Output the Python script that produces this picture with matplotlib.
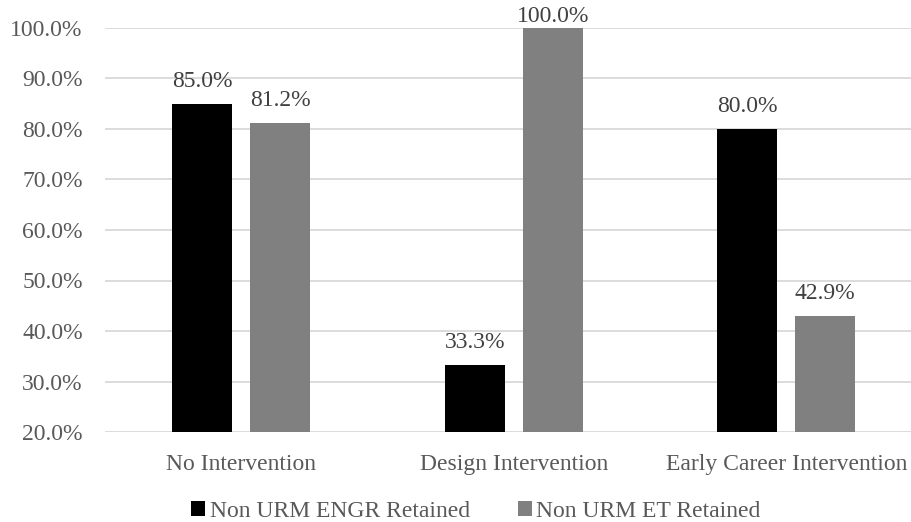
import matplotlib
matplotlib.use('Agg')
import matplotlib.pyplot as plt
import numpy as np
from matplotlib.ticker import PercentFormatter

plt.rcParams['font.family'] = ['Liberation Serif', 'DejaVu Serif']

categories = ['No Intervention', 'Design Intervention', 'Early Career Intervention']
engr_retained = [85.0, 33.3, 80.0]
et_retained = [81.2, 100.0, 42.9]
series_names = ['Non URM ENGR Retained', 'Non URM ET Retained']

text_col = '#595959'
fs = 17

fig = plt.figure(figsize=(9.12, 5.22), dpi=100)
ax = fig.add_axes([105/912, 1 - 432/522, 1 - 105/912, (432 - 28)/522])

x = np.arange(len(categories))
w = 0.22
off = 0.143
b1 = ax.bar(x - off, engr_retained, w, color='black', label=series_names[0], zorder=3)
b2 = ax.bar(x + off, et_retained, w, color='#808080', label=series_names[1], zorder=3)

# value labels above bars, kept inside the figure at the top
for bars, vals in [(b1, engr_retained), (b2, et_retained)]:
    for r, v in zip(bars, vals):
        ax.text(r.get_x() + r.get_width()/2, min(v + 4.5, 102.2), f'{v:.1f}%', ha='center', va='center',
                fontsize=fs, color='#404040', clip_on=False)

ax.set_ylim(20, 100)
ax.set_yticks(np.arange(20, 101, 10))
ax.yaxis.set_major_formatter(PercentFormatter(decimals=1))
ax.set_xlim(-0.5, (912 - 105)/272.5 - 0.5)
ax.set_xticks(x)
ax.set_xticklabels(categories)
ax.grid(axis='y', color='#d9d9d9', linewidth=1.3, zorder=0)
for s in ax.spines.values():
    s.set_visible(False)
ax.tick_params(length=0, labelsize=fs, labelcolor=text_col)
ax.tick_params(axis='x', pad=16)
ax.tick_params(axis='y', pad=16)

fig.legend(handles=[b1, b2], loc='center', bbox_to_anchor=(0.522, 0.02), ncol=2, frameon=False,
           fontsize=fs, labelcolor=text_col, handlelength=0.6, handleheight=0.6,
           handletextpad=0.2, columnspacing=2.0)

fig.savefig('out.png', dpi=100)
